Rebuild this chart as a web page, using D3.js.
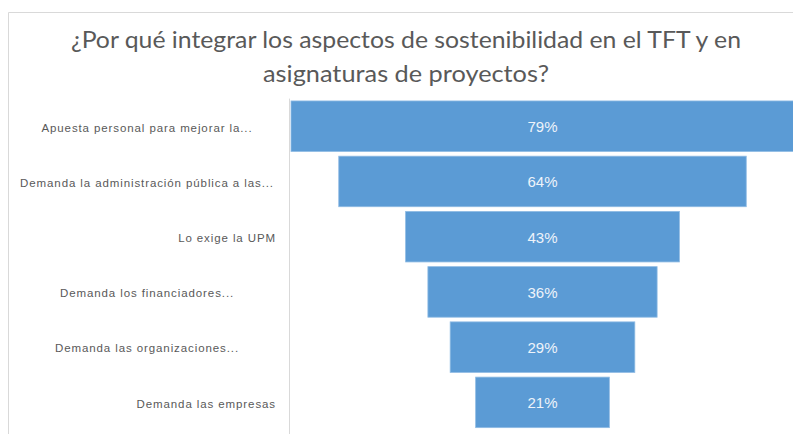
<!DOCTYPE html>
<html>
<head>
<meta charset="utf-8">
<script src="https://cdn.jsdelivr.net/npm/d3@7"></script>
<style>
  html, body { margin: 0; padding: 0; background: #ffffff; }
  svg { display: block; }
</style>
</head>
<body>
<svg id="chart" width="793" height="434"></svg>
<script>
// ---- data ----
const titleLines = ["¿Por qué integrar los aspectos de sostenibilidad en el TFT y en", "asignaturas de proyectos?"];
const categories = [
  "Apuesta personal para mejorar la...",
  "Demanda la administración pública a las...",
  "Lo exige la UPM",
  "Demanda los financiadores...",
  "Demanda las organizaciones...",
  "Demanda las empresas"
];
const values = [79, 64, 43, 36, 29, 21];
const valueLabels = ["79%", "64%", "43%", "36%", "29%", "21%"];

// ---- layout ----
const W = 793, H = 434;
const plot = { left: 290, right: 795, top: 98.6, bottom: 430 };
const cx = 542.5;
const svg = d3.select("#chart");

// chart border (top + left visible)
svg.append("path")
  .attr("d", `M8.5,${H + 2} L8.5,12.5 L${W + 2},12.5`)
  .attr("fill", "none").attr("stroke", "#d9d9d9").attr("stroke-width", 1);

// title
const title = svg.append("g").attr("font-family", "Lato, 'Open Sans', sans-serif")
  .attr("font-size", 22.5).attr("fill", "#595959");
const titleY = [48, 82];
const titleW = [670, 286];
titleLines.forEach((t, i) => {
  title.append("text")
    .attr("x", 406).attr("y", titleY[i])
    .attr("text-anchor", "middle")
    .attr("textLength", titleW[i])
    .attr("lengthAdjust", "spacingAndGlyphs")
    .text(t);
});

// scales
const y = d3.scaleBand().domain(categories).range([plot.top, plot.bottom])
  .paddingInner(0.085).paddingOuter(0.0425);
const w = d3.scaleLinear().domain([0, 79]).range([0, 503]);

// axis line
svg.append("line")
  .attr("x1", 289.5).attr("x2", 289.5)
  .attr("y1", plot.top).attr("y2", H + 2)
  .attr("stroke", "#d9d9d9").attr("stroke-width", 1);

// bars
svg.append("g").selectAll("rect")
  .data(categories)
  .join("rect")
  .attr("x", (d, i) => cx - w(values[i]) / 2)
  .attr("y", d => y(d))
  .attr("width", (d, i) => w(values[i]))
  .attr("height", y.bandwidth())
  .attr("fill", "#5b9bd5")
  .attr("stroke", "#8fbbe4")
  .attr("stroke-width", 0.8);

// value labels
svg.append("g").selectAll("text")
  .data(categories)
  .join("text")
  .attr("x", cx)
  .attr("y", d => y(d) + y.bandwidth() / 2 + 6)
  .attr("text-anchor", "middle")
  .attr("font-family", "'Liberation Sans', Arial, sans-serif")
  .attr("font-size", 15)
  .attr("fill", "#eef3fa")
  .text((d, i) => valueLabels[i]);

// category labels
svg.append("g").selectAll("text")
  .data(categories)
  .join("text")
  .attr("x", d => d.endsWith("...") ? 147 : 276)
  .attr("y", d => y(d) + y.bandwidth() / 2 + 5.3)
  .attr("text-anchor", d => d.endsWith("...") ? "middle" : "end")
  .attr("font-family", "'Liberation Sans', Arial, sans-serif")
  .attr("font-size", 11.5)
  .attr("letter-spacing", 0.9)
  .attr("fill", "#595959")
  .text(d => d);
</script>
</body>
</html>
